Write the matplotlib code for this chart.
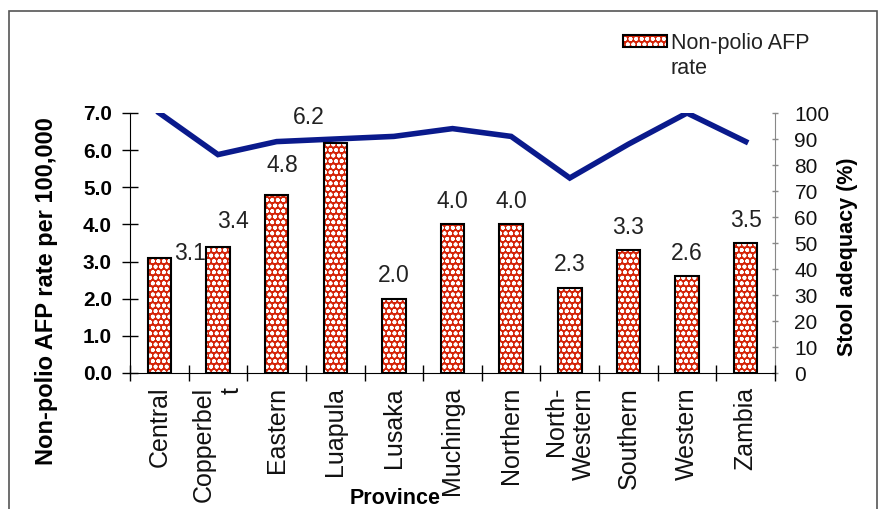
import matplotlib
matplotlib.use('Agg')
import numpy as np
import matplotlib.pyplot as plt
from matplotlib.patches import Rectangle

plt.rcParams['font.family'] = ['Liberation Sans', 'DejaVu Sans']
plt.rcParams['hatch.linewidth'] = 1.2

provinces = ['Central', 'Copperbel\nt', 'Eastern', 'Luapula', 'Lusaka', 'Muchinga',
             'Northern', 'North-\nWestern', 'Southern', 'Western', 'Zambia']
afp_rate = [3.1, 3.4, 4.8, 6.2, 2.0, 4.0, 4.0, 2.3, 3.3, 2.6, 3.5]
stool_adequacy = [100, 84, 89, 90, 91, 94, 91, 75, 88, 100, 89]

BAR_RED = '#d42408'
LINE_BLUE = '#0a1a8c'
HATCH = 'ooo'

# label nudges (points) so value labels clear the line
label_offsets = {0: (22, 3), 1: (11, 18), 2: (4, 21), 3: (-19, 18)}

fig = plt.figure(figsize=(8.8, 5.09), dpi=100)
ax = fig.add_axes([130 / 880, 1 - 373 / 509, 645 / 880, 260 / 509])
ax2 = ax.twinx()
ax.set_zorder(ax2.get_zorder() + 1)
ax.patch.set_visible(False)

x = np.arange(len(provinces))
ax.bar(x, afp_rate, width=0.4, color=BAR_RED, edgecolor='white', hatch=HATCH,
       linewidth=0, zorder=2)
ax.bar(x, afp_rate, width=0.4, fill=False, edgecolor='black', linewidth=1.5, zorder=3)

for i, v in enumerate(afp_rate):
    dx, dy = label_offsets.get(i, (0, 16.5))
    ax.annotate(f'{v:.1f}', (x[i], v), xytext=(dx, dy), textcoords='offset points',
                ha='center', va='center', fontsize=16.5, color='#222222', zorder=5)

ax2.plot(x, stool_adequacy, color=LINE_BLUE, lw=4, solid_joinstyle='miter', zorder=4)

ax.set_xlim(-0.5, len(provinces) - 0.5)
ax.set_ylim(0, 7)
ax2.set_ylim(0, 100)

ax.set_yticks(np.arange(0, 7.1, 1.0))
ax.set_yticklabels([f'{t:.1f}' for t in np.arange(0, 7.1, 1.0)], fontweight='bold',
                   fontsize=15)
ax.tick_params(axis='y', direction='inout', length=11, width=1, pad=7.5, colors='black')

ax.set_xticks(np.arange(-0.5, len(provinces), 1.0))
ax.set_xticklabels([])
ax.set_xticks(x, minor=True)
ax.set_xticklabels(provinces, minor=True, rotation=90, fontsize=18,
                   multialignment='right', color='#111111')
ax.tick_params(axis='x', which='major', direction='inout', length=11, width=1)
ax.tick_params(axis='x', which='minor', length=0, pad=10)

ax2.set_yticks(np.arange(0, 101, 10))
ax2.tick_params(axis='y', direction='inout', length=4, width=1, color='#888888',
                labelcolor='#111111', labelsize=15, pad=12)

for s in ['top', 'right']:
    ax.spines[s].set_visible(False)
ax.spines['left'].set_color('black')
ax.spines['bottom'].set_color('black')
for s in ['top', 'left', 'bottom']:
    ax2.spines[s].set_visible(False)
ax2.spines['right'].set_color('#888888')

ax.set_ylabel('Non-polio AFP rate per 100,000', fontsize=17, fontweight='bold',
              va='center', ha='center')
ax.yaxis.set_label_coords(-0.1287, 0.315)
ax2.set_ylabel('Stool adequacy (%)', fontsize=15.5, fontweight='bold',
               va='center', ha='center')
ax2.yaxis.set_label_coords(1.113, 0.446)
ax.set_xlabel('Province', fontsize=15.5, fontweight='bold', va='center', ha='center')
ax.xaxis.set_label_coords(0.411, -0.481)

# legend key for the bar series
fig.add_artist(Rectangle((623 / 880, 1 - 47 / 509), 44 / 880, 12 / 509,
                         transform=fig.transFigure, facecolor=BAR_RED,
                         edgecolor='white', hatch=HATCH, linewidth=0))
fig.add_artist(Rectangle((623 / 880, 1 - 47 / 509), 44 / 880, 12 / 509,
                         transform=fig.transFigure, fill=False,
                         edgecolor='black', linewidth=1.5))
fig.text(671 / 880, 1 - 33 / 509, 'Non-polio AFP\nrate', fontsize=15.5, va='top',
         ha='left', color='#222222', linespacing=1.25)

# chart border
fig.add_artist(Rectangle((9 / 880, -0.05), 868 / 880, 1.05 - 11 / 509,
                         transform=fig.transFigure, fill=False,
                         edgecolor='#555555', linewidth=1.2))

fig.savefig('out.png', dpi=100)
